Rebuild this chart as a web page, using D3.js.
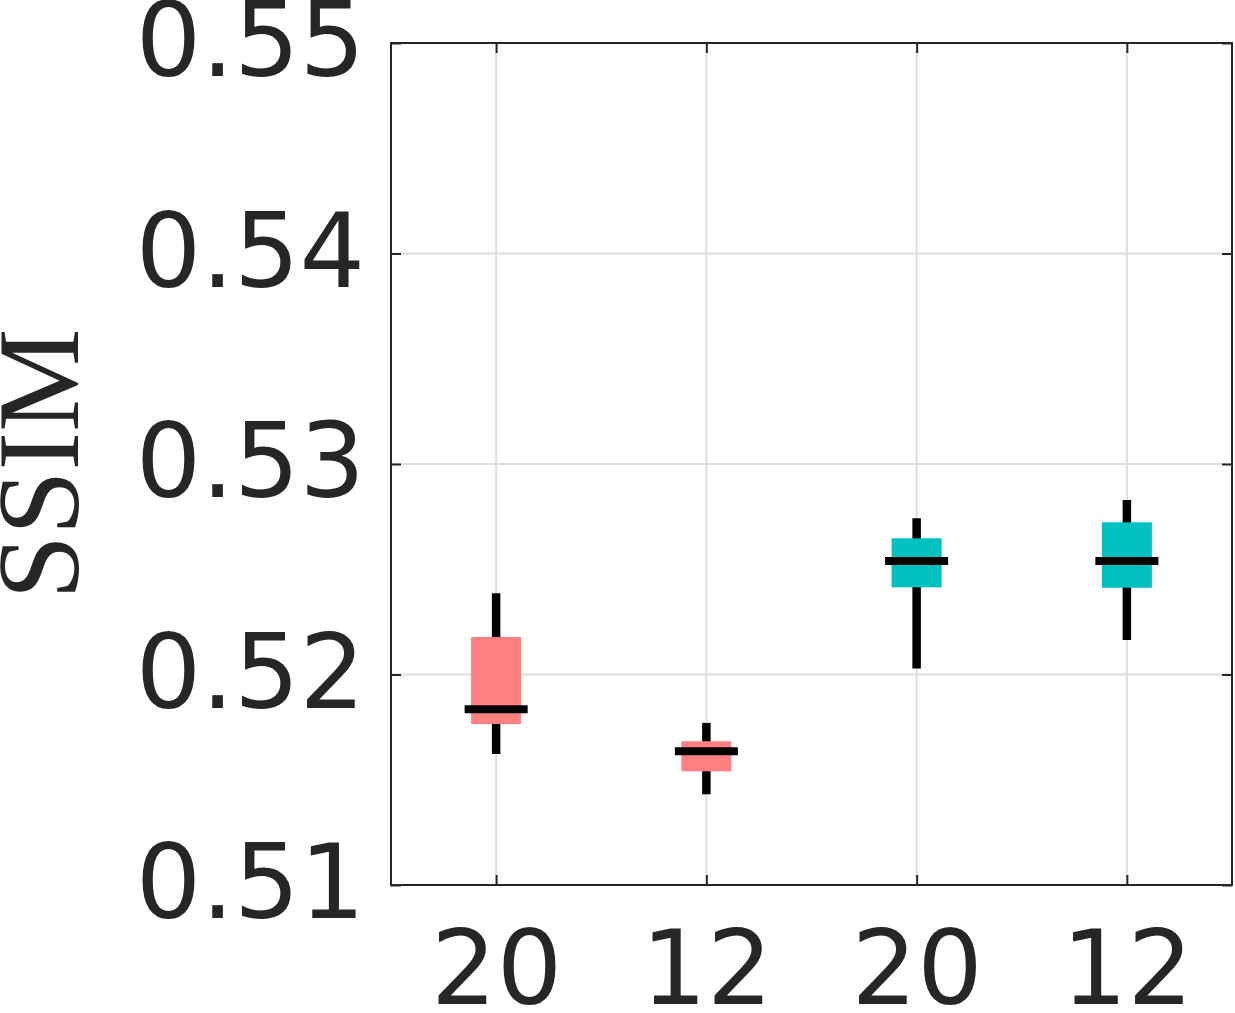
<!DOCTYPE html>
<html>
<head>
<meta charset="utf-8">
<script src="https://cdn.jsdelivr.net/npm/d3@7"></script>
<style>
html,body{margin:0;padding:0;background:#fff;overflow:hidden;}
</style>
</head>
<body>
<svg id="chart" width="1235" height="1013"></svg>
<script>
const categories = ["20", "12", "20", "12"];
const groupColors = ["#FF8080", "#FF8080", "#00C0C0", "#00C0C0"];
const whiskerLow  = [0.51622, 0.51431, 0.52029, 0.52164];
const q1Values    = [0.51765, 0.51540, 0.52414, 0.52412];
const medians     = [0.51835, 0.51635, 0.52539, 0.52539];
const q3Values    = [0.52178, 0.51683, 0.52647, 0.52723];
const whiskerHigh = [0.52386, 0.51770, 0.52742, 0.52829];
const yTicks = [0.51, 0.52, 0.53, 0.54, 0.55];
const yTickLabels = ["0.51", "0.52", "0.53", "0.54", "0.55"];
const yLabel = "SSIM";

const svg = d3.select("#chart");
const L = 391, R = 1232, T = 43, B = 885;
const x = d3.scaleLinear().domain([0.5, 4.5]).range([L, R]);
const y = d3.scaleLinear().domain([0.51, 0.55]).range([B, T]);
const ink = "#262626";

// grid
const g = svg.append("g");
g.selectAll(".gx").data(categories).enter().append("line")
  .attr("x1", (d,i)=>x(i+1)).attr("x2", (d,i)=>x(i+1))
  .attr("y1", T).attr("y2", B)
  .attr("stroke", "#dedede").attr("stroke-width", 2);
g.selectAll(".gy").data(yTicks).enter().append("line")
  .attr("x1", L).attr("x2", R)
  .attr("y1", d=>y(d)).attr("y2", d=>y(d))
  .attr("stroke", "#dedede").attr("stroke-width", 2);

// boxes
const data = categories.map((c,i)=>({i, c, lo:whiskerLow[i], q1:q1Values[i], med:medians[i], q3:q3Values[i], hi:whiskerHigh[i], col:groupColors[i]}));
const bw = 50, mw = 63, ww = 8.5, mt = 8;
const bx = svg.append("g");
bx.selectAll(".wh").data(data).enter().append("line")
  .attr("x1", d=>x(d.i+1)).attr("x2", d=>x(d.i+1))
  .attr("y1", d=>y(d.lo)).attr("y2", d=>y(d.hi))
  .attr("stroke", "#000").attr("stroke-width", ww);
bx.selectAll(".bx").data(data).enter().append("rect")
  .attr("x", d=>x(d.i+1)-bw/2).attr("width", bw)
  .attr("y", d=>y(d.q3)).attr("height", d=>y(d.q1)-y(d.q3))
  .attr("fill", d=>d.col);
bx.selectAll(".md").data(data).enter().append("line")
  .attr("x1", d=>x(d.i+1)-mw/2).attr("x2", d=>x(d.i+1)+mw/2)
  .attr("y1", d=>y(d.med)).attr("y2", d=>y(d.med))
  .attr("stroke", "#000").attr("stroke-width", mt);

// axes
const tl = 10;
const ax = svg.append("g");
ax.append("g").attr("transform", `translate(0,${B})`)
  .call(d3.axisBottom(x).tickValues([1,2,3,4]).tickFormat((d)=>categories[d-1]).tickSizeInner(-tl).tickSizeOuter(0).tickPadding(46));
ax.append("g").attr("transform", `translate(0,${T})`)
  .call(d3.axisTop(x).tickValues([1,2,3,4]).tickFormat("").tickSizeInner(-tl).tickSizeOuter(0));
ax.append("g").attr("transform", `translate(${L},0)`)
  .call(d3.axisLeft(y).tickValues(yTicks).tickFormat((d,i)=>yTickLabels[i]).tickSizeInner(-tl).tickSizeOuter(0).tickPadding(26));
ax.append("g").attr("transform", `translate(${R},0)`)
  .call(d3.axisRight(y).tickValues(yTicks).tickFormat("").tickSizeInner(-tl).tickSizeOuter(0));
ax.selectAll(".domain").remove();
ax.selectAll(".tick line").attr("stroke", ink).attr("stroke-width", 2);
ax.selectAll(".tick text").attr("fill", ink)
  .style("font-family", "'DejaVu Sans', sans-serif").style("font-size", "103px");

svg.append("rect").attr("x", L).attr("y", T).attr("width", R-L).attr("height", B-T)
  .attr("fill", "none").attr("stroke", ink).attr("stroke-width", 2);

svg.append("text")
  .attr("transform", `translate(78,${(T+B)/2}) rotate(-90)`)
  .attr("text-anchor", "middle")
  .attr("fill", ink)
  .style("font-family", "'Liberation Serif', serif").style("font-size", "116px")
  .text(yLabel);
</script>
</body>
</html>
